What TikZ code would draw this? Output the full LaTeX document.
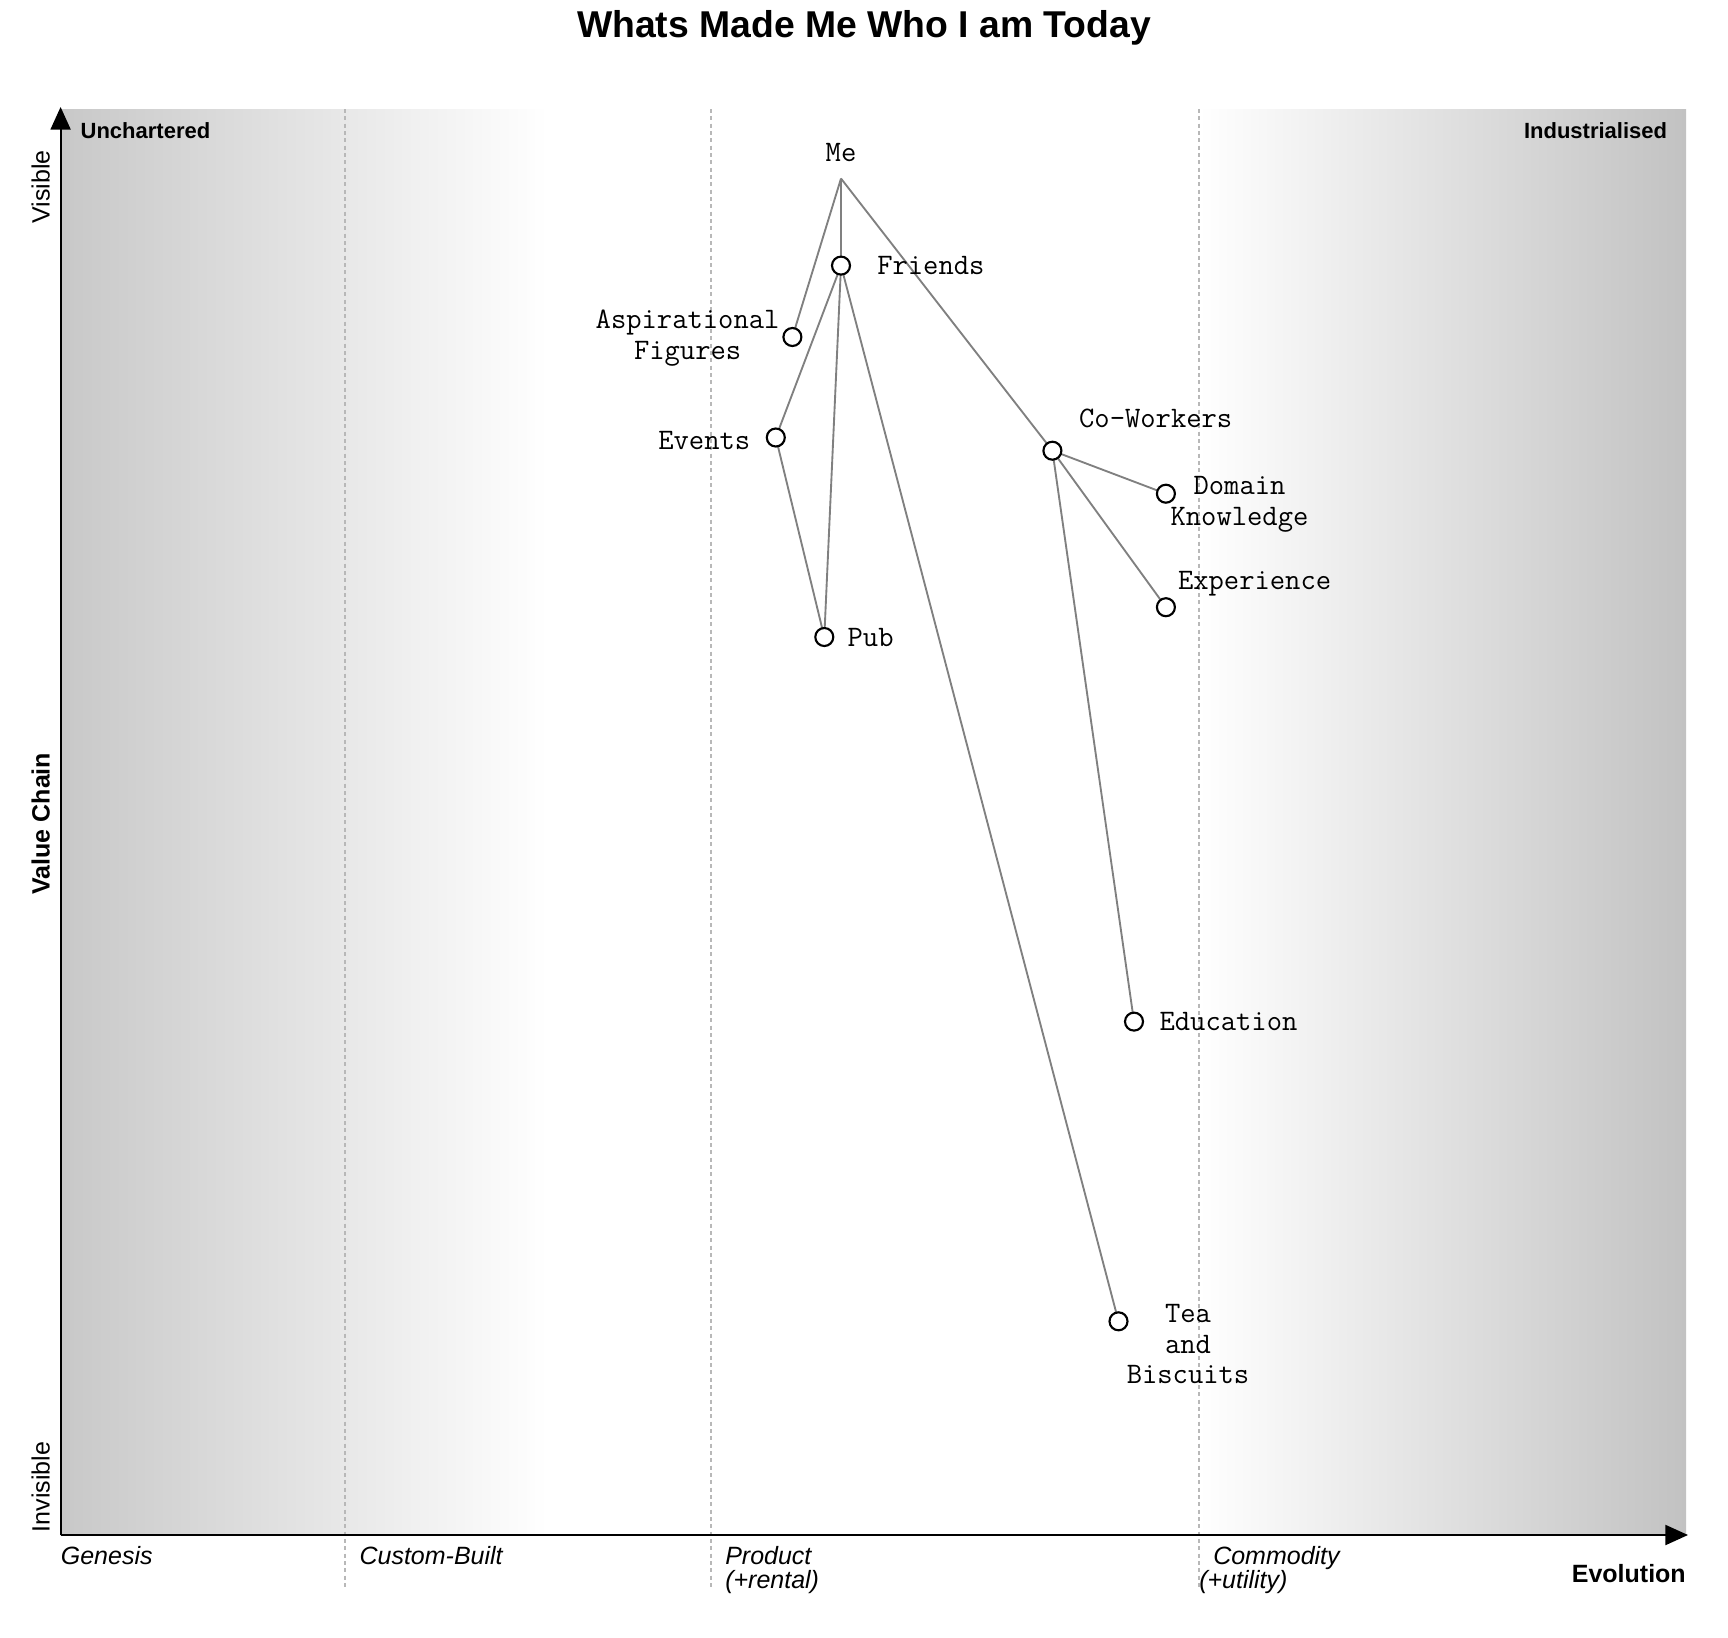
\documentclass[tikz,border=0pt]{standalone}
\usepackage{fontspec}
\setmainfont{Liberation Sans}
\usetikzlibrary{arrows.meta}
\definecolor{gL}{HTML}{C8C8C8}
\definecolor{gR}{HTML}{C2C2C2}
\definecolor{linkc}{HTML}{808080}
\definecolor{dashc}{HTML}{B8B8B8}
\pgfdeclarelayer{bg}
\pgfdeclarelayer{links}
\pgfsetlayers{bg,links,main}
\newcommand{\monolbl}{\fontsize{22.3}{22.8}\selectfont\ttfamily\addfontfeatures{FakeBold=0.8}}
\begin{document}
\begin{tikzpicture}[x=0.75pt,y=-0.75pt,
  comp/.style={circle,draw=black,fill=white,line width=1.6pt,minimum size=13.5pt,inner sep=0pt},
  link/.style={draw=linkc,line width=1.4pt},
  evo/.style={draw=dashc,line width=1.1pt,dash pattern=on 3pt off 2.5pt},
  axisline/.style={draw=black,line width=1.6pt,-{Triangle[length=17pt,width=15pt]}},
  lbl/.style={font=\monolbl,inner sep=0pt,align=center},
  axlbl/.style={font=\fontsize{18.75}{22}\selectfont,inner sep=0pt},
  axbold/.style={font=\fontsize{18.75}{22}\selectfont\bfseries,inner sep=0pt},
  axsmall/.style={font=\fontsize{16.5}{20}\selectfont\bfseries,inner sep=0pt},
  axit/.style={font=\fontsize{18.75}{18.2}\selectfont\itshape,inner sep=0pt,anchor=north west,align=left},
  titlefont/.style={font=\fontsize{28}{32}\selectfont\bfseries,inner sep=0pt}
]
\useasboundingbox (0,0) rectangle (1728,1638);

% background gradient
\begin{pgfonlayer}{bg}
\shade[left color=gL,right color=white] (60.6,109) rectangle (548.2,1535);
\shade[left color=white,right color=gR] (1198.4,109) rectangle (1686,1535);
\coordinate (e1t) at (345,109); \coordinate (e1b) at (345,1587);
\coordinate (e2t) at (711,109); \coordinate (e2b) at (711,1587);
\coordinate (e3t) at (1199,109); \coordinate (e3b) at (1199,1587);
\draw[evo] (e1t) -- (e1b);
\draw[evo] (e2t) -- (e2b);
\draw[evo] (e3t) -- (e3b);
\end{pgfonlayer}

% axes
\coordinate (origin) at (60.6,1535);
\coordinate (ytop) at (60.6,107);
\coordinate (xend) at (1688,1535);
\draw[axisline] (origin) -- (ytop);
\draw[axisline] (origin) -- (xend);

% title
\node[titlefont] (title) at (864,28) {Whats Made Me Who I am Today};

% axis labels
\node[axsmall,anchor=west] (unch) at (80.4,131) {Unchartered};
\node[axsmall,anchor=east] (ind) at (1667.3,131) {Industrialised};
\node[axlbl,rotate=90] (vis) at (40.8,187) {Visible};
\node[axlbl,rotate=90] (invis) at (40.8,1487) {Invisible};
\node[axbold,rotate=90] (vc) at (40.8,823.7) {Value Chain};
\node[axit] (gen) at (60.6,1546) {Genesis};
\node[axit] (cust) at (359.3,1546) {Custom-Built};
\node[axit] (prod) at (725,1546) {Product\\(+rental)};
\node[axit] (comm) at (1213,1546) {Commodity\\\hspace*{-10.5pt}(+utility)};
\node[axbold,anchor=east] (evol) at (1686,1573.7) {Evolution};

% components
\coordinate (me) at (841,178.5);
\node[lbl] (melbl) at (841,153) {Me};
\node[comp] (friends) at (841,265.6) {};
\node[comp] (asp) at (792.4,337) {};
\node[comp] (events) at (775.8,437.5) {};
\node[comp] (pub) at (824.3,637) {};
\node[comp] (cow) at (1052.4,450.7) {};
\node[comp] (dom) at (1165.9,493.7) {};
\node[comp] (exp) at (1165.9,607.2) {};
\node[comp] (edu) at (1134,1021.6) {};
\node[comp] (tea) at (1118.5,1321.3) {};

% component labels
\node[lbl,anchor=west] (friendsl) at (877,265.6) {Friends};
\node[lbl] (aspl) at (687.6,338.2) {Aspirational\\Figures};
\node[lbl,anchor=east] (eventsl) at (750.5,440.5) {Events};
\node[lbl,anchor=west] (publ) at (847.4,637) {Pub};
\node[lbl,anchor=west] (cowl) at (1078.9,418.8) {Co-Workers};
\node[lbl] (doml) at (1239.5,504.5) {Domain\\Knowledge};
\node[lbl] (expl) at (1254.6,583.8) {Experience};
\node[lbl,anchor=west] (edul) at (1159.3,1021.6) {Education};
\node[lbl] (teal) at (1188,1344) {Tea\\and\\Biscuits};

% links
\begin{pgfonlayer}{links}
\draw[link] (me) -- (friends.center);
\draw[link] (me) -- (asp.center);
\draw[link] (me) -- (cow.center);
\draw[link] (friends.center) -- (events.center);
\draw[link] (friends.center) -- (pub.center);
\draw[link] (friends.center) -- (tea.center);
\draw[link] (events.center) -- (pub.center);
\draw[link] (cow.center) -- (dom.center);
\draw[link] (cow.center) -- (exp.center);
\draw[link] (cow.center) -- (edu.center);
\end{pgfonlayer}
\end{tikzpicture}
\end{document}
